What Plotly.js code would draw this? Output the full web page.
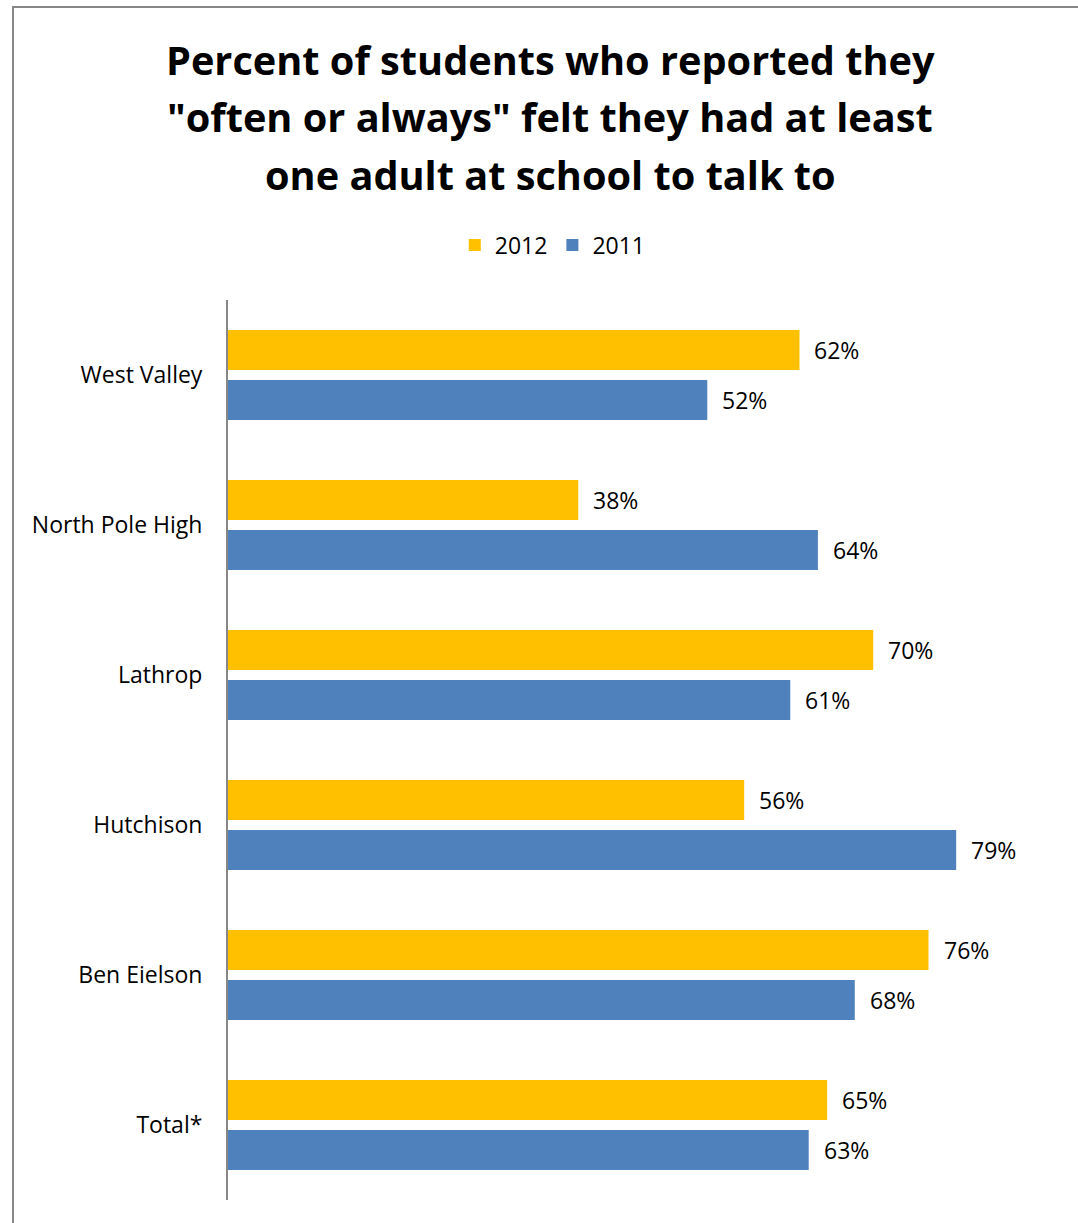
<!DOCTYPE html>
<html>
<head>
<meta charset="utf-8">
<script src="https://cdn.plot.ly/plotly-3.0.1.min.js"></script>
<style>
  html, body { margin: 0; padding: 0; background: #fff; }
  #wrap { position: relative; width: 1078px; height: 1223px; }
  #chart { width: 1078px; height: 1223px; }
  #frame { position: absolute; left: 12px; top: 6px; width: 1080px; height: 1230px;
           border-left: 2px solid #878787; border-top: 2px solid #878787; pointer-events: none; }
</style>
</head>
<body>
<div id="wrap">
  <div id="chart"></div>
  <div id="frame"></div>
</div>
<script>
const schools = ["West Valley", "North Pole High", "Lathrop", "Hutchison", "Ben Eielson", "Total*"];
const values2012 = [62, 38, 70, 56, 76, 65];
const values2011 = [52, 64, 61, 79, 68, 63];
const seriesNames = ["2012", "2011"];
const titleLines = ["Percent of students who reported they", "\"often or always\" felt they had at least", "one adult at school to talk to"];

const FONT = "Open Sans, Noto Sans, sans-serif";

const traces = [
  { type: "bar", orientation: "h", name: seriesNames[0], y: schools, x: values2012,
    marker: { color: "#FFC000" }, hoverinfo: "none" },
  { type: "bar", orientation: "h", name: seriesNames[1], y: schools, x: values2011,
    marker: { color: "#4F81BD" }, hoverinfo: "none" }
];

const annotations = [];
schools.forEach((s, i) => {
  annotations.push({ x: values2012[i], y: s, xref: "x", yref: "y", text: values2012[i] + "%",
    showarrow: false, xanchor: "left", yanchor: "middle", xshift: 13, yshift: 25,
    font: { family: FONT, size: 23, color: "#000" } });
  annotations.push({ x: values2011[i], y: s, xref: "x", yref: "y", text: values2011[i] + "%",
    showarrow: false, xanchor: "left", yanchor: "middle", xshift: 13, yshift: -25,
    font: { family: FONT, size: 23, color: "#000" } });
});
const titleY = [1.2667, 1.2033, 1.1389];
titleLines.forEach((t, i) => {
  annotations.push({ x: 0.38, y: titleY[i], xref: "paper", yref: "paper", text: t,
    showarrow: false, xanchor: "center", yanchor: "middle",
    font: { family: FONT, size: 39.7, color: "#000", weight: "bold" } });
});

const layout = {
  width: 1078, height: 1223,
  margin: { l: 228, r: 2, t: 300, b: 23 },
  paper_bgcolor: "rgba(0,0,0,0)", plot_bgcolor: "rgba(0,0,0,0)",
  barmode: "group", bargap: 0.3333, bargroupgap: 0.2,
  showlegend: true,
  legend: { orientation: "h", x: 0.383, xanchor: "center", y: 1.061, yanchor: "middle",
    font: { family: FONT, size: 23, color: "#000" }, traceorder: "normal", itemwidth: 30 },
  xaxis: { range: [0, 92], showgrid: false, zeroline: false, showticklabels: false, ticks: "",
    showline: false, fixedrange: true },
  yaxis: { autorange: "reversed", type: "category", showgrid: false, zeroline: false,
    showline: true, linecolor: "#878787", linewidth: 2, ticks: "",
    tickfont: { family: FONT, size: 23, color: "#000" }, ticklabelstandoff: 19 },
  annotations: annotations
};

Plotly.newPlot("chart", traces, layout, { displayModeBar: false, staticPlot: true });
</script>
</body>
</html>
